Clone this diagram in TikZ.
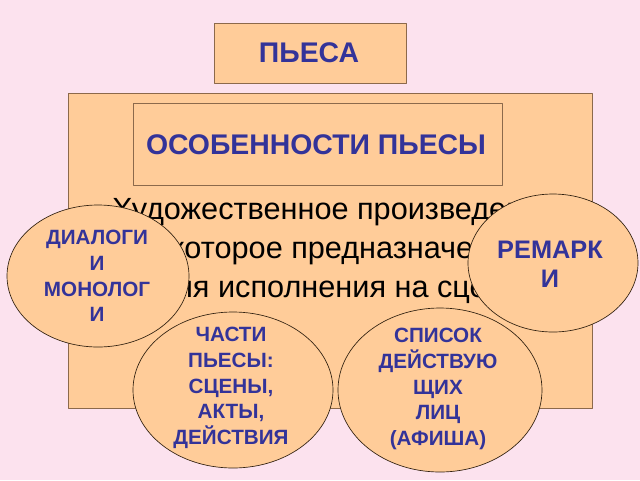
\documentclass[tikz,border=0pt]{standalone}
\usepackage{fontspec}
\setmainfont{Liberation Sans}
\usepackage{tikz}
\usetikzlibrary{positioning}

\definecolor{slidebg}{RGB}{252,226,238}
\definecolor{peach}{RGB}{255,204,153}
\definecolor{frame}{RGB}{140,105,75}
\definecolor{inkblue}{RGB}{51,51,153}

\begin{document}
\begin{tikzpicture}[x=0.75pt,y=-0.75pt,line join=round,
    box/.style={draw=frame,fill=peach,line width=0.7pt},
    oval/.style={draw=black!75!brown,fill=peach,line width=0.5pt},
    headline/.style={text=inkblue,font=\fontsize{21.3}{25}\selectfont\bfseries},
    ovaltext/.style={text=inkblue,align=center,inner sep=0pt,
      font=\fontsize{15.5}{19.2}\selectfont\bfseries}]
        \fill[slidebg] (0,0) rectangle (640,480);
        \useasboundingbox (0,0) rectangle (640,480);
        % 
        \draw[box] (214,23) rectangle (406,83);
        \node[headline] (pesa) at (309,53) {ПЬЕСА};
        % 
        \draw[box] (68,93) rectangle (592,408);
        \draw[box] (133,103) rectangle (502,185);
        \node[headline] (osob) at (316,145) {ОСОБЕННОСТИ ПЬЕСЫ};
        % 
        \node[align=center,inner sep=0pt,font=\fontsize{23}{29.2}\selectfont]
          (opred) at (339,251)
          {Художественное произведение,\\которое предназначено\\для исполнения на сцене};
        % 
        \draw[oval] (98,276) ellipse [x radius=91,y radius=71];
        \node[ovaltext] (dialog) at (97,276) {ДИАЛОГИ\\И\\МОНОЛОГ\\И};
        % 
        \draw[oval] (553,263) ellipse [x radius=85,y radius=69];
        \node[ovaltext,font=\fontsize{19}{21.8}\selectfont\bfseries]
          (remark) at (550,264) {РЕМАРК\\И};
        % 
        \draw[oval] (233,390) ellipse [x radius=100,y radius=78];
        \node[ovaltext] (chasti) at (231,388) {ЧАСТИ\\ПЬЕСЫ:\\СЦЕНЫ,\\АКТЫ,\\ДЕЙСТВИЯ};
        % 
        \draw[oval] (440,390) ellipse [x radius=102,y radius=82];
        \node[ovaltext] (spisok) at (438,389) {СПИСОК\\ДЕЙСТВУЮ\\ЩИХ\\ЛИЦ\\(АФИША)};
        % 
      \end{tikzpicture}
\end{document}
